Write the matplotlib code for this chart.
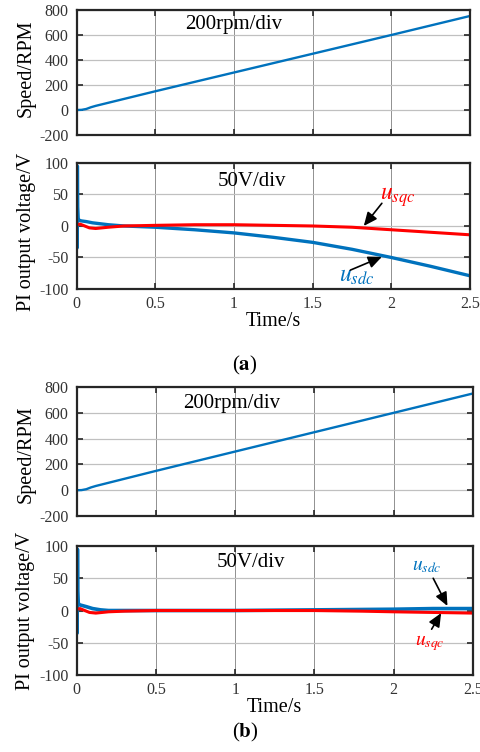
import matplotlib
matplotlib.use("Agg")
import matplotlib.pyplot as plt

plt.rcParams['font.family'] = ['Liberation Serif', 'DejaVu Serif']
plt.rcParams['mathtext.fontset'] = 'stix'

BLUE = '#0072BD'
RED = '#FF0000'

# ---- data ----
time_ticks = [0, 0.5, 1, 1.5, 2, 2.5]
time_tick_labels = ['0', '0.5', '1', '1.5', '2', '2.5']
speed_ticks = [-200, 0, 200, 400, 600, 800]
volt_ticks = [-100, -50, 0, 50, 100]

# speed ramp (a)
t_speed_a = [0.0, 0.03, 0.06, 0.09, 0.12, 0.5, 1.0, 1.5, 2.0, 2.5]
speed_a = [0, 1, 8, 22, 33, 150, 300, 450, 600, 752]
# speed ramp (b)
t_speed_b = [0.0, 0.03, 0.06, 0.09, 0.12, 0.5, 1.0, 1.5, 2.0, 2.5]
speed_b = [0, 1, 8, 22, 33, 150, 300, 450, 600, 750]

# PI outputs (a)
t_sd_a = [0.0, 0.002, 0.004, 0.006, 0.009, 0.015, 0.03, 0.06, 0.1, 0.2, 0.3,
          0.5, 0.75, 1.0, 1.25, 1.5, 1.75, 2.0, 2.25, 2.5]
usdc_a = [0, -35, 95, 30, 12, 9, 8, 7, 5, 2, 0,
          -2, -6, -11, -18, -26, -37, -50, -64, -79]
t_sq_a = [0.0, 0.02, 0.05, 0.08, 0.12, 0.2, 0.3, 0.5, 0.75, 1.0, 1.25, 1.5,
          1.75, 2.0, 2.25, 2.5]
usqc_a = [2, 3, 0, -3, -4, -2, 0, 1, 2, 2, 1, 0,
          -2, -6, -10, -14]

# PI outputs (b)
t_sd_b = [0.0, 0.002, 0.004, 0.006, 0.009, 0.015, 0.03, 0.06, 0.1, 0.15, 0.2,
          0.5, 1.0, 1.5, 2.0, 2.25, 2.5]
usdc_b = [0, -35, 95, 30, 12, 9, 8, 6, 3, 1, 0,
          0, 0, 1, 2, 3, 3]
t_sq_b = [0.0, 0.02, 0.05, 0.08, 0.12, 0.2, 0.3, 0.5, 1.0, 1.5, 1.8, 2.0,
          2.25, 2.5]
usqc_b = [2, 3, 0, -3, -4, -2, -1, 0, 0, 0, -1, -2,
          -3, -4]

fig = plt.figure(figsize=(4.8, 7.52), dpi=100)


def style_axes(ax, yticks, show_x):
    ax.set_xlim(0, 2.5)
    ax.set_ylim(yticks[0], yticks[-1])
    ax.set_xticks(time_ticks)
    ax.set_yticks(yticks)
    ax.set_yticklabels([str(v) for v in yticks])
    if show_x:
        ax.set_xticklabels(time_tick_labels)
    else:
        ax.set_xticklabels([])
    ax.tick_params(direction='in', top=True, right=True, length=4, width=1.2,
                   labelsize=11.5, colors='#262626', labelcolor='#333333')
    ax.tick_params(axis='y', pad=6)
    ax.tick_params(axis='x', pad=5)
    ax.xaxis.grid(True, color='#7f7f7f', lw=0.6)
    ax.yaxis.grid(True, color='#c0c0c0', lw=0.9)
    ax.set_axisbelow(True)
    for s in ax.spines.values():
        s.set_linewidth(1.6)
        s.set_color('#262626')


def callout(ax, txt, color, text_xy, tail, tip, fs):
    ax.text(text_xy[0], text_xy[1], txt, color=color, fontsize=fs,
            ha='center', va='center')
    ax.annotate('', xy=tip, xytext=tail, textcoords='data',
                arrowprops=dict(arrowstyle='-|>,head_length=0.9,head_width=0.4',
                                mutation_scale=9, color='black', lw=1.2,
                                shrinkA=0, shrinkB=0))


# ---- panel (a) ----
ax1 = fig.add_axes([0.160, 0.8205, 0.819, 0.1662])
ax1.plot(t_speed_a, speed_a, color=BLUE, lw=1.7)
style_axes(ax1, speed_ticks, False)
ax1.set_ylabel('Speed/RPM', fontsize=14.5)
ax1.yaxis.set_label_coords(-0.105, 0.53)
ax1.text(0.40, 0.88, '200rpm/div', transform=ax1.transAxes, fontsize=15,
         ha='center', va='center')

ax2 = fig.add_axes([0.160, 0.6157, 0.819, 0.1676])
ax2.plot(t_sd_a, usdc_a, color=BLUE, lw=2.4)
ax2.plot(t_sq_a, usqc_a, color=RED, lw=2.2)
style_axes(ax2, volt_ticks, True)
ax2.set_ylabel('PI output voltage/V', fontsize=14.5)
ax2.yaxis.set_label_coords(-0.105, 0.45)
ax2.set_xlabel('Time/s', fontsize=14.5, labelpad=0)
ax2.text(0.446, 0.85, '50V/div', transform=ax2.transAxes, fontsize=15,
         ha='center', va='center')
callout(ax2, r'$u_{sqc}$', RED, (2.04, 46), (1.94, 36), (1.825, 0), 17)
callout(ax2, r'$u_{sdc}$', BLUE, (1.78, -80), (1.74, -70), (1.94, -49), 17)

fig.text(0.51, 0.5146, r'($\mathbf{a}$)', fontsize=15, ha='center',
         va='center')

# ---- panel (b) ----
ax3 = fig.add_axes([0.160, 0.3138, 0.825, 0.1715])
ax3.plot(t_speed_b, speed_b, color=BLUE, lw=1.7)
style_axes(ax3, speed_ticks, False)
ax3.set_ylabel('Speed/RPM', fontsize=14.5)
ax3.yaxis.set_label_coords(-0.105, 0.48)
ax3.text(0.39, 0.876, '200rpm/div', transform=ax3.transAxes, fontsize=15,
         ha='center', va='center')

ax4 = fig.add_axes([0.160, 0.1024, 0.825, 0.1715])
ax4.plot(t_sd_b, usdc_b, color=BLUE, lw=2.6)
ax4.plot(t_sq_b, usqc_b, color=RED, lw=2.2)
style_axes(ax4, volt_ticks, True)
ax4.set_ylabel('PI output voltage/V', fontsize=14.5)
ax4.yaxis.set_label_coords(-0.105, 0.5)
ax4.set_xlabel('Time/s', fontsize=14.5, labelpad=0)
ax4.text(0.44, 0.87, '50V/div', transform=ax4.transAxes, fontsize=15,
         ha='center', va='center')
callout(ax4, r'$u_{sdc}$', BLUE, (2.21, 68), (2.25, 50), (2.34, 7), 14)
callout(ax4, r'$u_{sqc}$', RED, (2.23, -50), (2.24, -29), (2.30, -4), 14)

fig.text(0.51, 0.0253, r'($\mathbf{b}$)', fontsize=15, ha='center',
         va='center')

fig.savefig('out.png', dpi=100)
